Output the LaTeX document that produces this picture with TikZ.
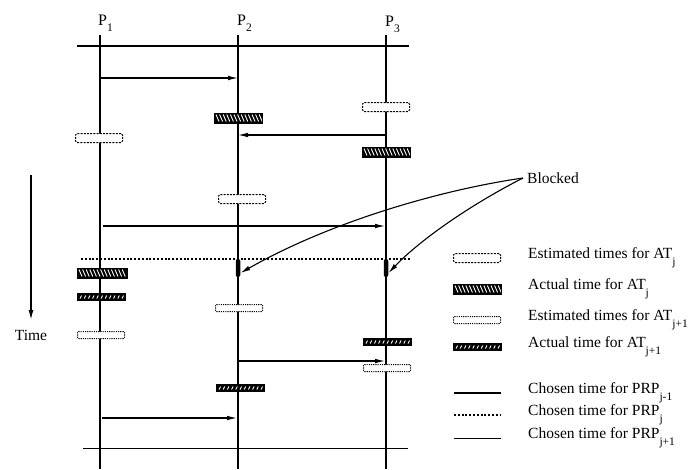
\documentclass[tikz,border=0pt]{standalone}
\usepackage{fontspec}
\setmainfont{Liberation Serif}
\usetikzlibrary{arrows.meta}
\newcommand{\sbs}[1]{\raisebox{-0.42em}{\fontsize{11.5}{12}\selectfont #1}}
\begin{document}
\begin{tikzpicture}[x=1pt,y=-1pt,
  lbl/.style={font=\fontsize{15.5}{18}\selectfont, inner sep=0pt},
  plbl/.style={font=\fontsize{16}{18}\selectfont, inner sep=0pt, anchor=base west},
  proc/.style={line width=1.3pt},
  msg/.style={line width=1.1pt, -{Latex[length=10pt,width=4.6pt]}},
  estj/.style={draw, fill=white, dash pattern=on 2pt off 1.2pt, line width=1pt,
    rounded corners=1.5pt, minimum width=47pt, minimum height=9pt, inner sep=0pt},
  estjj/.style={draw, fill=white, dash pattern=on 1.1pt off 1.1pt, line width=1pt,
    rounded corners=1pt, minimum width=47pt, minimum height=7pt, inner sep=0pt},
  actj/.style={draw, fill=black, line width=0.8pt, minimum width=48pt,
    minimum height=10pt, inner sep=0pt,
    path picture={\foreach \k in {0,...,12}{\draw[white,line width=0.9pt]
      ([xshift={2pt+\k*3.6pt},yshift=3.5pt]path picture bounding box.west) -- ++(3pt,-7pt);}}},
  actjj/.style={draw, fill=black, line width=0.8pt, minimum width=48pt,
    minimum height=7pt, inner sep=0pt,
    path picture={\foreach \k in {0,...,10}{\draw[white,line width=0.9pt]
      ([xshift={3pt+\k*4.2pt},yshift=-1.5pt]path picture bounding box.west) -- ++(1.5pt,3pt);}}},
  blockbar/.style={fill=black, rounded corners=2pt, minimum width=4.5pt,
    minimum height=18pt, inner sep=0pt},
  prpa/.style={line width=2.6pt},
  prpb/.style={line width=2.2pt, dash pattern=on 2pt off 1.8pt},
  prpc/.style={line width=1pt}
]
\useasboundingbox (0,0) rectangle (696,469);

% process lines
\coordinate (p1t) at (100,35); \coordinate (p1b) at (100,469);
\coordinate (p2t) at (238,35); \coordinate (p2b) at (238,469);
\coordinate (p3t) at (386,35); \coordinate (p3b) at (386,469);
\draw[proc] (p1t) -- (p1b);
\draw[proc] (p2t) -- (p2b);
\draw[proc] (p3t) -- (p3b);

\node[plbl] (P1) at (98,25) {P\sbs{1}};
\node[plbl] (P2) at (237,25) {P\sbs{2}};
\node[plbl] (P3) at (385,26) {P\sbs{3}};

% PRP lines
\coordinate (ta1) at (77,46); \coordinate (ta2) at (409,46);
\draw[prpa] (ta1) -- (ta2);
\coordinate (tb1) at (81,259); \coordinate (tb2) at (411,259);
\draw[prpb] (tb1) -- (tb2);
\coordinate (tc1) at (83,448); \coordinate (tc2) at (408,448);
\draw[prpc] (tc1) -- (tc2);

% messages
\coordinate (m1s) at (100,78);  \coordinate (m1e) at (238,78);
\coordinate (m2s) at (386,135); \coordinate (m2e) at (238,135);
\coordinate (m3s) at (103,226); \coordinate (m3e) at (385,226);
\coordinate (m4s) at (239,361); \coordinate (m4e) at (385,361);
\coordinate (m5s) at (102,418); \coordinate (m5e) at (237,418);
\draw[msg] (m1s) -- (m1e);
\draw[msg] (m2s) -- (m2e);
\draw[msg] (m3s) -- (m3e);
\draw[msg] (m4s) -- (m4e);
\draw[msg] (m5s) -- (m5e);

% estimated AT_j
\node[estj] (e3) at (386,107) {};
\node[estj] (e1) at (99,138) {};
\node[estj] (e2) at (242,199) {};
% actual AT_j
\node[actj] (a2) at (238,118) {};
\node[actj] (a3) at (386,152) {};
\node[actj, minimum width=50pt] (a1) at (102,273) {};
% estimated AT_j+1
\node[estjj] (f2) at (239,308) {};
\node[estjj] (f1) at (101,335) {};
\node[estjj] (f3) at (387,368) {};
% actual AT_j+1
\node[actjj] (g1) at (101,297) {};
\node[actjj] (g3) at (387,342) {};
\node[actjj] (g2) at (240,388) {};

% blocked
\node[blockbar] (b2) at (238,268) {};
\node[blockbar] (b3) at (386,268) {};
\node[lbl, anchor=west] (blk) at (527,178) {Blocked};
\draw[msg] ([xshift=-4pt]blk.west) .. controls (440,190) and (330,222) .. ([yshift=-5pt]b2.east);
\draw[msg] ([xshift=-4pt]blk.west) .. controls (470,205) and (420,240) .. ([yshift=-5pt]b3.east);

% time arrow
\coordinate (tm1) at (31,175); \coordinate (tm2) at (31,320);
\draw[line width=1.4pt, -{Latex[length=10pt,width=5pt]}] (tm1) -- (tm2);
\node[lbl] (time) at (31,335) {Time};

% legend
\node[estj]  (l1) at (477,258) {};
\node[actj]  (l2) at (477,289) {};
\node[estjj] (l3) at (477,320) {};
\node[actjj] (l4) at (477,347) {};
\coordinate (l5a) at (454,393); \coordinate (l5b) at (501,393);
\coordinate (l6a) at (454,415); \coordinate (l6b) at (501,415);
\coordinate (l7a) at (454,438); \coordinate (l7b) at (501,438);
\draw[prpa] (l5a) -- (l5b);
\draw[prpb] (l6a) -- (l6b);
\draw[prpc] (l7a) -- (l7b);

\node[lbl, anchor=west] (t1) at (528,258) {Estimated times for AT\sbs{j}};
\node[lbl, anchor=west] (t2) at (528,289) {Actual time for AT\sbs{j}};
\node[lbl, anchor=west] (t3) at (528,320) {Estimated times for AT\sbs{j+1}};
\node[lbl, anchor=west] (t4) at (528,347) {Actual time for AT\sbs{j+1}};
\node[lbl, anchor=west] (t5) at (528,393) {Chosen time for PRP\sbs{j-1}};
\node[lbl, anchor=west] (t6) at (528,415) {Chosen time for PRP\sbs{j}};
\node[lbl, anchor=west] (t7) at (528,438) {Chosen time for PRP\sbs{j+1}};
\end{tikzpicture}
\end{document}
